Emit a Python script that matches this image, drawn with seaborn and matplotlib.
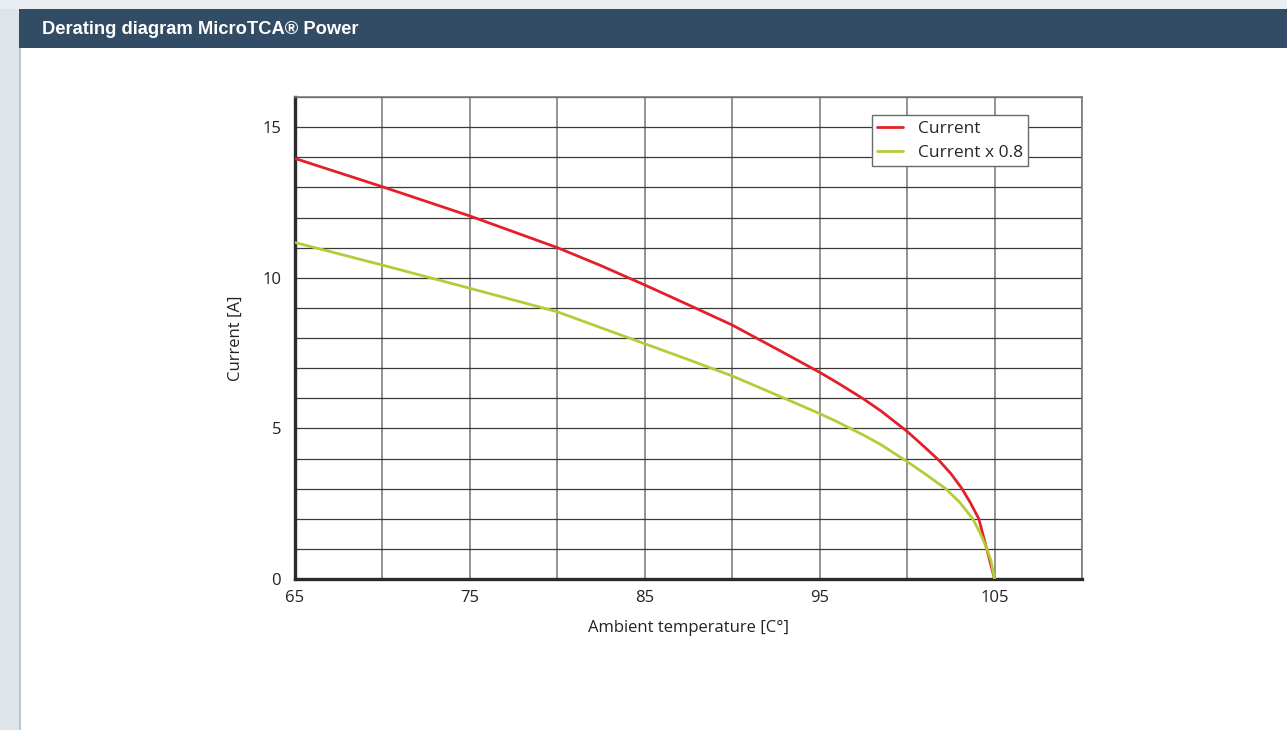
import matplotlib
matplotlib.use("Agg")
import matplotlib.pyplot as plt
from matplotlib.patches import Rectangle
from matplotlib.lines import Line2D
import seaborn as sns
import pandas as pd

# ---- data ----
temp_current = [65, 70, 75, 80, 82.5, 85, 87.5, 90, 92.5, 95, 96, 97.5, 98.5, 100,
                101, 101.8, 102.5, 103.1, 103.6, 104.1, 105]
current = [13.96, 13.02, 12.05, 11.0, 10.4, 9.76, 9.1, 8.43, 7.65, 6.86, 6.52, 5.98, 5.58, 4.9,
           4.38, 3.95, 3.5, 3.03, 2.55, 2.0, 0.0]

temp_derated = [65, 70, 75, 80, 82.5, 85, 87.5, 90, 92.5, 95, 96, 97.5, 98.5, 100,
                101, 102.2, 103, 103.75, 104.2, 104.56, 104.8, 105]
current_derated = [11.17, 10.42, 9.65, 8.87, 8.34, 7.81, 7.28, 6.74, 6.12, 5.49, 5.22, 4.78, 4.46, 3.9,
                   3.5, 3.0, 2.55, 2.0, 1.5, 1.0, 0.6, 0.0]

series_names = ["Current", "Current x 0.8"]
x_ticks = [65, 75, 85, 95, 105]
y_ticks = [0, 5, 10, 15]
title = "Derating diagram MicroTCA® Power"
x_label = "Ambient temperature [C°]"
y_label = "Current [A]"

df = pd.concat([
    pd.DataFrame({"temp": temp_current, "value": current, "series": series_names[0]}),
    pd.DataFrame({"temp": temp_derated, "value": current_derated, "series": series_names[1]}),
], ignore_index=True)

sns.set_theme(style="white")
plt.rcParams["font.family"] = ["Open Sans", "DejaVu Sans"]

fig = plt.figure(figsize=(12.87, 7.30), dpi=100)
fig.patch.set_facecolor("white")

# page decorations
fig.patches.append(Rectangle((0, 0), 19 / 1287, 1, transform=fig.transFigure,
                             facecolor="#dde4ea", edgecolor="none", zorder=0))
fig.patches.append(Rectangle((19 / 1287, 0), 2 / 1287, 1, transform=fig.transFigure,
                             facecolor="#b9c6d2", edgecolor="none", zorder=0))
fig.patches.append(Rectangle((0, (730 - 9) / 730), 1, 9 / 730, transform=fig.transFigure,
                             facecolor="#e9eef2", edgecolor="none", zorder=0))
fig.patches.append(Rectangle((19 / 1287, (730 - 48) / 730), 1 - 19 / 1287, 39 / 730,
                             transform=fig.transFigure,
                             facecolor="#334c65", edgecolor="none", zorder=1))
fig.text(42 / 1287, (730 - 30) / 730, title, color="white", fontsize=13.2,
         fontweight="bold", va="center", ha="left",
         family=["Liberation Sans Narrow", "Liberation Sans", "DejaVu Sans"])

ax = fig.add_axes([295 / 1287, 151 / 730, 787 / 1287, 482 / 730])

palette = {series_names[0]: "#e41f2a", series_names[1]: "#b4cc38"}
sns.lineplot(data=df, x="temp", y="value", hue="series", palette=palette,
             estimator=None, sort=False, linewidth=2.0, ax=ax, zorder=5,
             legend=False)

ax.set_xlim(65, 110)
ax.set_ylim(0, 16)
ax.set_xticks(x_ticks)
ax.set_xticks([70, 80, 90, 100, 110], minor=True)
ax.set_yticks(y_ticks)
ax.set_yticks([v for v in range(0, 17)], minor=True)
ax.set_xticklabels([str(v) for v in x_ticks])
ax.set_yticklabels([str(v) for v in y_ticks])

ax.xaxis.grid(True, which="both", color="#808080", linewidth=1.2)
ax.yaxis.grid(True, which="both", color="#3a3a3a", linewidth=0.9)
ax.set_axisbelow(True)

for side in ["top", "right"]:
    ax.spines[side].set_color("#7a7a7a")
    ax.spines[side].set_linewidth(1.2)
for side in ["left", "bottom"]:
    ax.spines[side].set_color("#2a2a2a")
    ax.spines[side].set_linewidth(2.4)

ax.tick_params(axis="both", which="both", length=0, labelsize=12, colors="#222222")
ax.tick_params(axis="y", pad=10)
ax.tick_params(axis="x", pad=8)
# only the origin ticks are visible in the reference
for t in [ax.yaxis.get_major_ticks()[0], ax.xaxis.get_major_ticks()[0]]:
    t.tick1line.set_markersize(7)
    t.tick1line.set_color("#2a2a2a")
    t.tick1line.set_markeredgewidth(2)

ax.set_xlabel(x_label, fontsize=12, color="#222222", labelpad=10)
ax.set_ylabel(y_label, fontsize=12, color="#222222", labelpad=13)

handles = [Line2D([0], [0], color=palette[n], linewidth=2.0) for n in series_names]
leg = ax.legend(handles, series_names, loc="upper left", bbox_to_anchor=(0.733, 0.962),
                frameon=True, fancybox=False, framealpha=1, edgecolor="#6a6a6a",
                fontsize=12.5, handlelength=1.5, handletextpad=0.85, borderpad=0.3,
                labelspacing=0.45, borderaxespad=0)
leg.get_frame().set_linewidth(1.0)
leg.set_zorder(10)

fig.savefig("out.png", dpi=100, facecolor=fig.get_facecolor())
